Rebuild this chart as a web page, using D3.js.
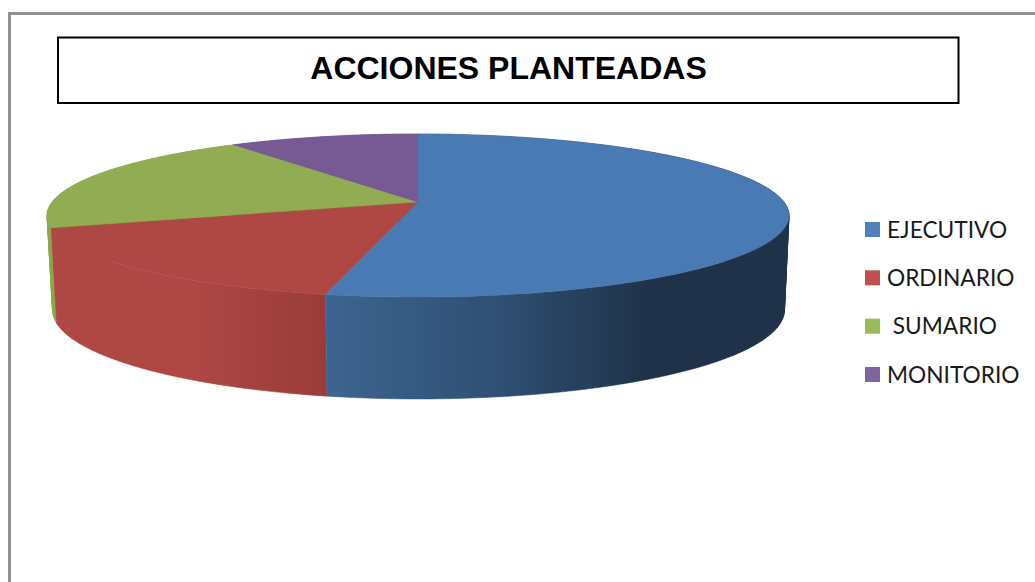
<!DOCTYPE html>
<html>
<head>
<meta charset="utf-8">
<script src="https://cdnjs.cloudflare.com/ajax/libs/d3/7.8.5/d3.min.js"></script>
<style>
  html, body { margin: 0; padding: 0; background: #fff; overflow: hidden; }
  svg { display: block; }
  .title { font-family: "Liberation Sans", Arial, sans-serif; font-weight: bold; font-size: 32px; fill: #000; }
  .legend-label { font-family: Lato, "Open Sans", sans-serif; font-size: 22.7px; fill: #1a1a1a; white-space: pre; }
</style>
</head>
<body>
<div id="chart"></div>
<script>
const categories = ["EJECUTIVO", "ORDINARIO", " SUMARIO", "MONITORIO"];
const values = [53.4, 16.6, 20.3, 9.7];
const topColors = ["#4a7ab3", "#af4845", "#91ac52", "#775a93"];
const legendColors = ["#4f81bd", "#c0504d", "#9bbb59", "#8064a2"];
const sideStops = [
  ["#3d6590", "#2f4f73", "#1f3249"],
  ["#af4845", "#af4845", "#993c39"],
  ["#8ca64e", "#8ca64e", "#8ca64e"],
  ["#5f4878", "#5f4878", "#5f4878"]
];
const sideOffsets = [[326, 500, 650], [53, 190, 326], [47, 200, 400], [47, 200, 400]];

const w = 1035;
const h = 582;

const svg = d3.select("#chart").append("svg")
  .attr("width", w)
  .attr("height", h);

// outer chart frame, it runs off the picture on the right and the bottom
svg.append("path")
  .attr("d", "M9.5," + (h + 2) + "V13.5H" + (w + 2))
  .attr("fill", "none")
  .attr("stroke", "#909090")
  .attr("stroke-width", 3);

svg.append("rect")
  .attr("x", 58)
  .attr("y", 37.5)
  .attr("width", 900.5)
  .attr("height", 65.5)
  .attr("fill", "#fff")
  .attr("stroke", "#000")
  .attr("stroke-width", 2);

svg.append("text")
  .attr("class", "title")
  .attr("x", 508.5)
  .attr("y", 78.5)
  .attr("text-anchor", "middle")
  .text("ACCIONES PLANTEADAS");

// perspective disc: back edge, hub and front edge on screen give the projection
let makeDisc = (cx, rx, yBack, yHub, yFront) => {
  const c = (2 * yHub - yBack - yFront) / (yFront - yBack);
  const a = yFront * (1 + c) - yHub;
  const d = rx * Math.sqrt(1 - c * c);
  return (angle, r = 1) => {
    const u = r * Math.sin(angle);
    const v = -r * Math.cos(angle);
    return [cx + d * u / (1 + c * v), (a * v + yHub) / (1 + c * v)];
  };
};

const topDisc = makeDisc(418, 371, 134, 202, 297);
const bottomDisc = makeDisc(418.5, 366, 221, 295, 399);

const slices = d3.pie().sort(null).value(d => d)(values);
const step = Math.PI / 180;
const line = d3.line();

let arcAngles = (s) => {
  const list = d3.range(s.startAngle, s.endAngle, step);
  list.push(s.endAngle);
  return list;
};

// horizontal shading of the side wall, one gradient per slice
const defs = svg.append("defs");
sideStops.forEach((stops, i) => {
  const grad = defs.append("linearGradient")
    .attr("id", "side" + i)
    .attr("gradientUnits", "userSpaceOnUse")
    .attr("x1", 0).attr("x2", w)
    .attr("y1", 0).attr("y2", 0);
  stops.forEach((color, j) => {
    grad.append("stop")
      .attr("offset", sideOffsets[i][j] / w)
      .attr("stop-color", color);
  });
});

// every quad wound the same way so they join up into one shape
let sidePath = (s) => d3.pairs(arcAngles(s)).map(p => {
  const quad = [topDisc(p[0]), topDisc(p[1]), bottomDisc(p[1]), bottomDisc(p[0])];
  if (d3.polygonArea(quad) < 0) quad.reverse();
  return line(quad) + "Z";
}).join("");

// back slices first, blue comes last because it is in front
svg.append("g").selectAll("path")
  .data([3, 2, 1, 0])
  .enter()
  .append("path")
  .attr("d", i => sidePath(slices[i]))
  .attr("fill", i => "url(#side" + i + ")")
  .attr("stroke", i => "url(#side" + i + ")")
  .attr("stroke-width", 0.5);

svg.append("g").selectAll("path")
  .data(slices)
  .enter()
  .append("path")
  .attr("d", s => line([topDisc(0, 0)].concat(arcAngles(s).map(a => topDisc(a)))) + "Z")
  .attr("fill", (s, i) => topColors[i])
  .attr("stroke", (s, i) => topColors[i])
  .attr("stroke-width", 0.4);

// legend
const legendY = d3.scalePoint()
  .domain(categories)
  .range([229.5, 374.5]);

const legend = svg.append("g").selectAll("g")
  .data(categories)
  .enter()
  .append("g")
  .attr("transform", d => "translate(865," + legendY(d) + ")");

legend.append("rect")
  .attr("x", 0)
  .attr("y", -7.5)
  .attr("width", 15)
  .attr("height", 15)
  .attr("fill", (d, i) => legendColors[i]);

legend.append("text")
  .attr("class", "legend-label")
  .attr("x", 22)
  .attr("y", 8)
  .text(d => d);
</script>
</body>
</html>
